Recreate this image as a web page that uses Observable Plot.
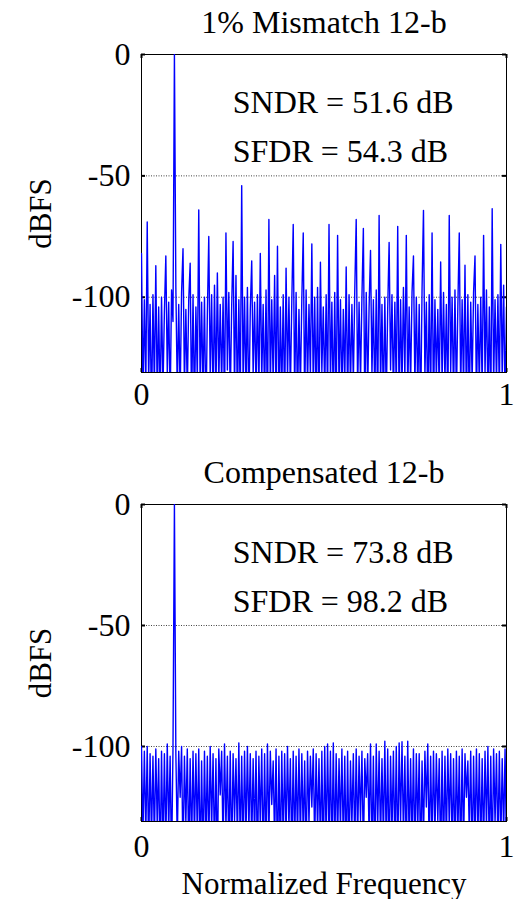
<!DOCTYPE html>
<html><head><meta charset="utf-8">
<script src="https://cdn.jsdelivr.net/npm/d3@7"></script>
<script src="https://cdn.jsdelivr.net/npm/@observablehq/plot@0.6"></script>
<style>
html,body{margin:0;padding:0;background:#fff;}
#chart svg{display:block;}
</style></head><body><div id="chart"></div>
<script>
const titles = ["1% Mismatch 12-b", "Compensated 12-b"];
const sndrLabels = ["SNDR = 51.6 dB", "SNDR = 73.8 dB"];
const sfdrLabels = ["SFDR = 54.3 dB", "SFDR = 98.2 dB"];
const yTicks = [0, -50, -100];
const xTicks = [0, 1];
const yLabel = "dBFS";
const xLabel = "Normalized Frequency";

// Spectrum (dBFS) per FFT bin, bins evenly spaced over normalized frequency 0..1
const mismatchDb = [
  -82, -140, -101, -138, -69, -135, -103, -150, -99, -138, -87, -142, -104, -145, -100, -138,
  -106, -83, -131, -102, -145, -97, -110, 0, -96, -139, -103, -141, -98, -80, -137, -105,
  -139, -101, -86, -148, -99, -147, -104, -134, -64, -140, -102, -139, -100, -152, -107, -75,
  -133, -99, -144, -95, -141, -90, -136, -103, -137, -100, -146, -73.5, -130, -98, -142, -104,
  -77, -139, -91, -147, -101, -144, -54, -137, -100, -140, -96, -149, -105, -85, -132, -102,
  -138, -99, -140, -82, -135, -103, -143, -97, -151, -68, -138, -101, -136, -91, -143, -79,
  -149, -104, -141, -99, -147, -88, -134, -100, -139, -102, -70, -141, -98, -146, -105, -138,
  -101, -73.5, -145, -97, -137, -103, -133, -78, -139, -100, -144, -96, -150, -85.6, -131, -104,
  -140, -99, -142, -70, -136, -102, -145, -98, -148, -74.5, -139, -101, -142, -105, -137, -87.5,
  -144, -99, -138, -103, -135, -97, -68, -140, -102, -135, -100, -71.7, -146, -98, -139, -104,
  -80.7, -132, -101, -143, -97, -149, -66.3, -138, -103, -146, -100, -143, -105, -77.4, -130, -99,
  -141, -102, -139, -70.8, -147, -101, -137, -96, -134, -74.5, -141, -104, -136, -98, -83, -137,
  -100, -140, -103, -150, -97, -64.2, -133, -102, -148, -99, -145, -73.5, -148, -101, -134, -105,
  -140, -85.5, -136, -98, -135, -103, -148, -66.3, -131, -100, -142, -97, -142, -104, -73.5, -139,
  -101, -139, -86.8, -146, -99, -147, -102, -135, -98, -83, -143, -103, -137, -100, -138, -74.5,
  -132, -97, -141, -104, -149, -63.5, -137, -101, -136, -99, -141, -78.2, -134, -95, -143, -104
];
const compensatedDb = [
  -100, -138, -102, -137, -100, -145, -103, -139, -104, -140, -101, -133, -105, -150, -102, -144,
  -103, -141, -99, -136, -104, -149, -101, 0, -103, -139, -102, -121, -100, -147, -104, -132,
  -101, -146, -105, -143, -102, -138, -103, -137, -101, -149, -106, -148, -102, -140, -104, -143,
  -100, -135, -103, -146, -105, -150, -101, -120, -102, -142, -99, -134, -104, -145, -102, -148,
  -103, -131, -105, -139, -98.5, -142, -104, -144, -102, -137, -100, -136, -103, -141, -105, -139,
  -102, -150, -104, -133, -101, -148, -103, -145, -99, -137, -102, -124, -106, -140, -101, -151,
  -104, -147, -102, -141, -103, -138, -100, -134, -105, -146, -102, -143, -104, -139, -101, -139,
  -103, -138, -106, -146, -102, -132, -104, -125, -101, -141, -103, -136, -105, -142, -102, -149,
  -100, -140, -99, -138, -102, -147, -98.5, -144, -103, -140, -105, -135, -101, -142, -104, -148,
  -102, -147, -106, -133, -103, -143, -101, -139, -104, -131, -102, -145, -105, -121, -103, -137,
  -99, -146, -104, -150, -99, -134, -102, -140, -105, -139, -97.8, -143, -101, -149, -104, -136,
  -102, -144, -100, -148, -98.5, -132, -98, -138, -104, -147, -97.8, -141, -105, -142, -101, -146,
  -103, -135, -103, -150, -106, -139, -102, -125, -99, -144, -104, -140, -102, -137, -103, -131,
  -105, -149, -102, -146, -104, -140, -101, -133, -103, -143, -105, -145, -102, -138, -104, -148,
  -101, -142, -103, -121, -106, -136, -102, -147, -104, -140, -101, -139, -103, -144, -105, -143,
  -102, -134, -100, -147, -104, -148, -101, -132, -103, -142, -102, -141, -105, -136, -101, -145
];

const FONT = "'Liberation Serif','Times New Roman',Times,serif";
const FS = 32;
const annotX = 0.25;
const annotY = [-20, -40];

function toRows(arr) {
  return arr.map((db, i) => ({f: i / (arr.length - 1), db}));
}

function panel(values, k, cfg) {
  const W = 518, mL = 141, mR = 12;
  const {height, marginTop, marginBottom, xPad, withXLabel} = cfg;
  const ph = height - marginTop - marginBottom;
  const pw = W - mL - mR;
  const rows = toRows(values);
  const marks = [
    Plot.ruleY(yTicks, {stroke: "#444", strokeDasharray: "1,1.5", strokeWidth: 1}),
    Plot.frame({stroke: "#000", strokeWidth: 1}),
    Plot.ruleY(yTicks, {stroke: "#000", strokeWidth: 2, insetRight: pw - 4}),
    Plot.ruleY(yTicks, {stroke: "#000", strokeWidth: 2, insetLeft: pw - 4}),
    Plot.ruleX(xTicks, {stroke: "#000", strokeWidth: 2, insetTop: ph - 4}),
    Plot.ruleX(xTicks, {stroke: "#000", strokeWidth: 2, insetBottom: ph - 4}),
    Plot.line(rows, {x: "f", y: "db", stroke: "#0000ff", strokeWidth: 1.4, clip: true}),
    Plot.axisY(yTicks, {tickSize: 0, tickPadding: 11, tickFormat: d => String(d), label: null, fontSize: FS, fontFamily: FONT}),
    Plot.axisX(xTicks, {tickSize: 0, tickPadding: xPad, tickFormat: d => String(d), label: null, fontSize: FS, fontFamily: FONT}),
    Plot.text([titles[k]], {frameAnchor: "top", dy: -22, textAnchor: "middle", lineAnchor: "bottom", fontSize: FS, fontFamily: FONT, fill: "#000"}),
    Plot.text([yLabel], {frameAnchor: "left", rotate: -90, dx: -91, textAnchor: "middle", lineAnchor: "bottom", fontSize: 31, fontFamily: FONT, fill: "#000"}),
    Plot.text([sndrLabels[k], sfdrLabels[k]], {x: annotX, y: (d, i) => annotY[i], text: d => d, textAnchor: "start", lineAnchor: "middle", fontSize: FS, fontFamily: FONT, fill: "#000"})
  ];
  if (withXLabel) {
    marks.push(Plot.text([xLabel], {frameAnchor: "bottom", dy: 72, textAnchor: "middle", lineAnchor: "bottom", fontSize: 31, fontFamily: FONT, fill: "#000"}));
  }
  return Plot.plot({
    width: W, height, marginTop, marginBottom, marginLeft: mL, marginRight: mR,
    style: {fontFamily: FONT, fontSize: FS + "px", background: "#fff", color: "#000", overflow: "visible"},
    x: {domain: [0, 1], label: null},
    y: {domain: [-131, 0], label: null},
    marks
  });
}

const root = document.getElementById("chart");
root.appendChild(panel(mismatchDb, 0, {height: 449, marginTop: 54, marginBottom: 77, xPad: 10, withXLabel: false}));
root.appendChild(panel(compensatedDb, 1, {height: 450, marginTop: 55, marginBottom: 78, xPad: 13, withXLabel: true}));
</script>
</body></html>
